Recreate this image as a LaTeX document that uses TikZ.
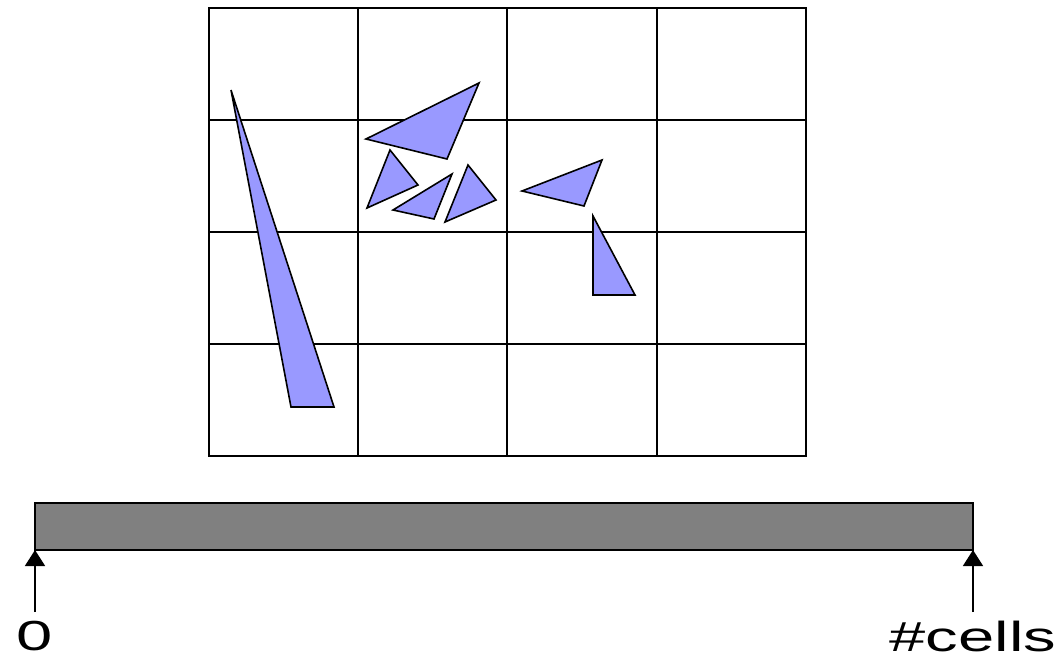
\documentclass[tikz,border=0pt]{standalone}
\usepackage{fontspec}
\setmainfont{Liberation Sans}
\usetikzlibrary{arrows.meta, positioning}
\definecolor{cviolet}{HTML}{9999FF}
\definecolor{cgrey}{HTML}{808080}
\tikzset{
  every picture/.style={line width=1.6pt},
  gridline/.style={draw=black, line width=1.6pt},
  tri/.style={draw=black, fill=cviolet, line width=1.6pt},
  cellbar/.style={draw=black, fill=cgrey, minimum width=938pt, minimum height=47pt, inner sep=0pt, outer sep=0pt},
  arrow/.style={-{Triangle[length=16pt, width=20pt]}, draw=black, line width=1.6pt, shorten <=8pt},
  lbl/.style={font=\fontsize{42}{46}\selectfont, inner sep=0pt},
}
\newcommand{\wide}[1]{\scalebox{1.55}[1]{#1}}

\begin{document}
\begin{tikzpicture}[x=1pt, y=-1pt]
  \useasboundingbox (0,0) rectangle (1058,660);
  % uniform grid of cells
  \draw[gridline] (209,8) rectangle (806,456);
  \foreach \gx in {358,507,657}
    \draw[gridline] (\gx,8) -- (\gx,456);
  \foreach \gy in {120,232,344}
    \draw[gridline] (209,\gy) -- (806,\gy);
  % triangles spread over the cells
  \filldraw[tri] (231,90) -- (291,407) -- (334,407) -- cycle;
  \filldraw[tri] (366,139) -- (479,83) -- (447,159) -- cycle;
  \filldraw[tri] (390,150) -- (418,185) -- (367,208) -- cycle;
  \filldraw[tri] (393,210) -- (452,174) -- (434,219) -- cycle;
  \filldraw[tri] (468,165) -- (496,200) -- (445,222) -- cycle;
  \filldraw[tri] (522,191) -- (602,160) -- (584,206) -- cycle;
  \filldraw[tri] (593,216) -- (593,295) -- (635,295) -- cycle;
  % one array, one slot per cell
  \node[cellbar] (bar) at (504,526.5) {};
  \node[lbl, below=70pt of bar.south west] (zero) {\wide{0}};
  \node[lbl, below=70pt of bar.south east] (ncells) {\wide{\#cells}};
  \draw[arrow] (zero.north) -- (bar.south west);
  \draw[arrow] (ncells.north) -- (bar.south east);
\end{tikzpicture}
\end{document}
